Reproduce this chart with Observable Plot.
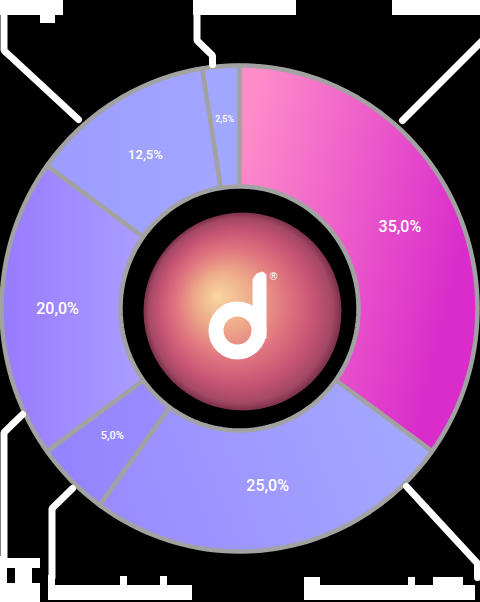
<!DOCTYPE html>
<html><head><meta charset="utf-8">
<script src="https://cdn.jsdelivr.net/npm/d3@7"></script>
<script src="https://cdn.jsdelivr.net/npm/@observablehq/plot@0.6"></script>
<style>html,body{margin:0;padding:0;background:#000;overflow:hidden}</style>
</head><body><div id="chart"></div>
<script>
// ---- data ----
const shares = [35, 25, 5, 20, 12.5, 2.5];
const shareLabels = ["35,0%", "25,0%", "5,0%", "20,0%", "12,5%", "2,5%"];
const sliceColorsA = ["#ff8cc9", "#9a8cff", "#9383ff", "#987aff", "#9c9cff", "#a2a8ff"];
const sliceColorsB = ["#d92ccb", "#a4aaff", "#9a8dff", "#aa9eff", "#a2a6ff", "#a2a8ff"];
const labelSizes = [16, 16, 11, 16, 13, 9];
const labelRadii = [180, 180, 180, 182, 180, 190];

// ---- layout (pixels) ----
const W = 480, H = 602, cx = 239, cy = 308, RX = 238, RY = 243, R0X = 119, R0Y = 122;
const toXY = (deg, rx, ry) => {
  const a = deg * Math.PI / 180;
  return [cx + rx * Math.sin(a), cy - (ry ?? rx) * Math.cos(a)];
};

const total = d3.sum(shares);
let acc = 0;
const slices = shares.map((v, i) => {
  const a0 = acc / total * 360; acc += v; const a1 = acc / total * 360;
  const pts = [];
  const n = Math.max(4, Math.ceil((a1 - a0) / 1.5));
  for (let k = 0; k <= n; k++) { const [x, y] = toXY(a0 + (a1 - a0) * k / n, RX, RY); pts.push({x, y, i}); }
  for (let k = n; k >= 0; k--) { const [x, y] = toXY(a0 + (a1 - a0) * k / n, R0X, R0Y); pts.push({x, y, i}); }
  pts.push({...pts[0]});
  const [lx, ly] = toXY((a0 + a1) / 2, labelRadii[i]);
  return {i, a0, a1, pts, lx, ly, label: shareLabels[i], size: labelSizes[i]};
});

// callouts: label blocks (names not legible in the reference) + leader lines
const leaders = [
  [[484, 15], [484, 38], [402, 120]],
  [[406, 486], [477, 563], [477, 577]],
  [[72, 488], [51.5, 508], [51.5, 577]],
  [[22, 414], [3.5, 432], [3.5, 560]],
  [[3.5, 15], [3.5, 50], [78, 119]],
  [[196.5, 15], [196.5, 40], [212, 55], [212, 64]]
];
const blocks = [
  {x1: 392, x2: 480, y1: 0, y2: 15},
  {x1: 304, x2: 475, y1: 585, y2: 600}, {x1: 304, x2: 320, y1: 577, y2: 585}, {x1: 408, x2: 415, y1: 577, y2: 585}, {x1: 433, x2: 463, y1: 577, y2: 585},
  {x1: 48, x2: 192, y1: 585, y2: 600}, {x1: 48, x2: 55, y1: 575, y2: 585}, {x1: 120, x2: 127, y1: 576, y2: 585}, {x1: 160, x2: 167, y1: 576, y2: 585},
  {x1: 0, x2: 40, y1: 583, y2: 602}, {x1: 0, x2: 7, y1: 556, y2: 583}, {x1: 7, x2: 40, y1: 558, y2: 568}, {x1: 15, x2: 32, y1: 568, y2: 583},
  {x1: 0, x2: 63, y1: 0, y2: 15}, {x1: 40, x2: 55, y1: 15, y2: 23},
  {x1: 193, x2: 296, y1: 0, y2: 15}
];
const leaderPts = leaders.flatMap((l, k) => l.map(([x, y]) => ({x, y, k})));

const lx0 = 237, ly0 = 330; // logo anchor
const logoRing = [{x: lx0, y: ly0}];
const logoStem = [[252, 338], [266, 338], [266, 274], [262, 271], [256, 273], [252, 279], [252, 338]].map(([x, y]) => ({x, y}));

const fontFam = 'Roboto, "DejaVu Sans", sans-serif';

const marks = [
  Plot.dot([{x: cx + 3, y: cy + 3}], {x: "x", y: "y", r: 99, fill: "url(#glow)", stroke: "none"}),
  ...slices.map(s => Plot.line(s.pts, {x: "x", y: "y", fill: `url(#g${s.i})`, stroke: "#a2a2a2", strokeWidth: 4.5, strokeLinejoin: "miter"})),
  Plot.dot(logoRing, {x: "x", y: "y", r: 21.5, stroke: "#fff", strokeWidth: 15, fill: "none"}),
  Plot.line(logoStem, {x: "x", y: "y", fill: "#fff", stroke: "none"}),
  Plot.text(["®"], {x: () => 273, y: () => 276, fill: "#fff", fontSize: 10, fontFamily: "DejaVu Sans"}),
  Plot.text(slices, {x: "lx", y: "ly", text: "label", fill: "#fff", fontSize: d => d.size, fontFamily: fontFam, fontWeight: 500, ariaLabel: "pct"}),
  Plot.line(leaderPts, {x: "x", y: "y", z: "k", stroke: "#fff", strokeWidth: 7, strokeLinejoin: "bevel"}),
  Plot.rect(blocks, {x1: "x1", x2: "x2", y1: "y1", y2: "y2", fill: "#fff"})
];

const chart = Plot.plot({
  width: W, height: H, margin: 0,
  style: {background: "#000", overflow: "visible"},
  x: {domain: [0, W], axis: null},
  y: {domain: [H, 0], axis: null},
  marks
});

const svg = d3.select(chart);
const defs = svg.insert("defs", ":first-child");
const gradDirs = [[0.05, 0.1, 0.95, 0.45], [0, 0.5, 1, 0.3], [0, 0.5, 1, 0.5], [0, 0.5, 1, 0.5], [0, 0.5, 1, 0.5], [0, 0.5, 1, 0.5]];
slices.forEach(s => {
  const [x1, y1, x2, y2] = gradDirs[s.i];
  const g = defs.append("linearGradient").attr("id", `g${s.i}`).attr("x1", x1).attr("y1", y1).attr("x2", x2).attr("y2", y2);
  g.append("stop").attr("offset", 0).attr("stop-color", sliceColorsA[s.i]);
  g.append("stop").attr("offset", 1).attr("stop-color", sliceColorsB[s.i]);
});
const rg = defs.append("radialGradient").attr("id", "glow").attr("cx", 0.5).attr("cy", 0.5).attr("r", 0.5).attr("fx", 0.37).attr("fy", 0.42);
[[0, "#f8d6a0"], [0.28, "#eeac8a"], [0.55, "#e07680"], [0.78, "#c85474"], [0.93, "#a44866"], [1, "#7a3048"]]
  .forEach(([o, c]) => rg.append("stop").attr("offset", o).attr("stop-color", c));

// condensed look for the percentage labels
svg.selectAll('g[aria-label="pct"] text').each(function () {
  const t = d3.select(this);
  const tr = t.attr("transform");
  if (tr) t.attr("transform", tr + " scale(0.86,1.05)");
});

document.getElementById("chart").appendChild(chart);
</script>
</body></html>
